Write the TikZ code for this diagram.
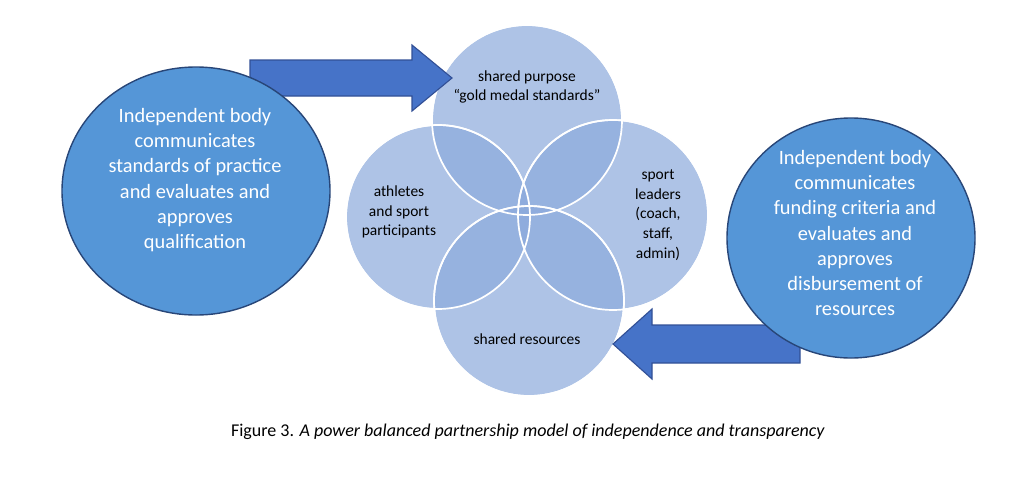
\documentclass[tikz,border=0pt]{standalone}
\usepackage{fontspec}
\setmainfont{Carlito}
\begin{document}
\begin{tikzpicture}[x=0.025cm, y=-0.025cm]
    \tikzset{
        venn/.style={fill=venn, fill opacity=0.7, draw=white, line width=1.2pt},
        body/.style={fill=bodyblue, draw=bodyedge, line width=1pt},
        bigarrow/.style={fill=arrowblue, draw=arrowedge, line width=0.8pt},
        venntext/.style={font=\fontsize{11}{14}\selectfont, align=center, text=black},
        bodytext/.style={font=\fontsize{14.5}{18}\selectfont, align=center, text=white}
    }
    \definecolor{venn}{RGB}{140,170,220}
    \definecolor{bodyblue}{RGB}{85,150,215}
    \definecolor{bodyedge}{RGB}{40,70,120}
    \definecolor{arrowblue}{RGB}{70,115,200}
    \definecolor{arrowedge}{RGB}{50,80,150}

    \useasboundingbox (0,0) rectangle (1024,494);

    % -- Diagramma di Venn --
    \fill[venn] (527,120) circle (95);
    \fill[venn] (438,217) circle (92);
    \fill[venn] (613,215) circle (95);
    \fill[venn] (529,301) circle (95);
    \draw[white, line width=1.2pt] (527,120) circle (95) (438,217) circle (92)
        (613,215) circle (95) (529,301) circle (95);

    % -- Frecce --
    \draw[bigarrow] (250,60) -- (412,60) -- (412,45) -- (452,78) -- (412,111)
                    -- (412,96) -- (250,96) -- cycle;
    \draw[bigarrow] (800,325) -- (652,325) -- (652,309) -- (613,344) -- (652,379)
                    -- (652,363) -- (800,363) -- cycle;

    % -- Cerchi esterni --
    \draw[body] (196,191) ellipse (134 and 124);
    \draw[body] (851,238) ellipse (124 and 120);

    \node[venntext] (purpose) at (527,87) {shared purpose\\``gold medal standards''};
    \node[venntext] (athletes) at (399,212) {athletes\\and sport\\participants};
    \node[venntext] (leaders) at (658,215) {sport\\leaders\\(coach,\\staff,\\admin)};
    \node[venntext] (resources) at (527,339) {shared resources};

    \node[bodytext] (standards) at (195,180) {Independent body\\communicates\\standards of practice\\and evaluates and\\approves\\qualification};
    \node[bodytext] (funding) at (855,233) {Independent body\\communicates\\funding criteria and\\evaluates and\\approves\\disbursement of\\resources};

    % Didascalia
    \node[font=\fontsize{12.8}{15}\selectfont] (caption) at (528,432)
        {Figure 3. \textit{A power balanced partnership model of independence and transparency}};
\end{tikzpicture}
\end{document}
